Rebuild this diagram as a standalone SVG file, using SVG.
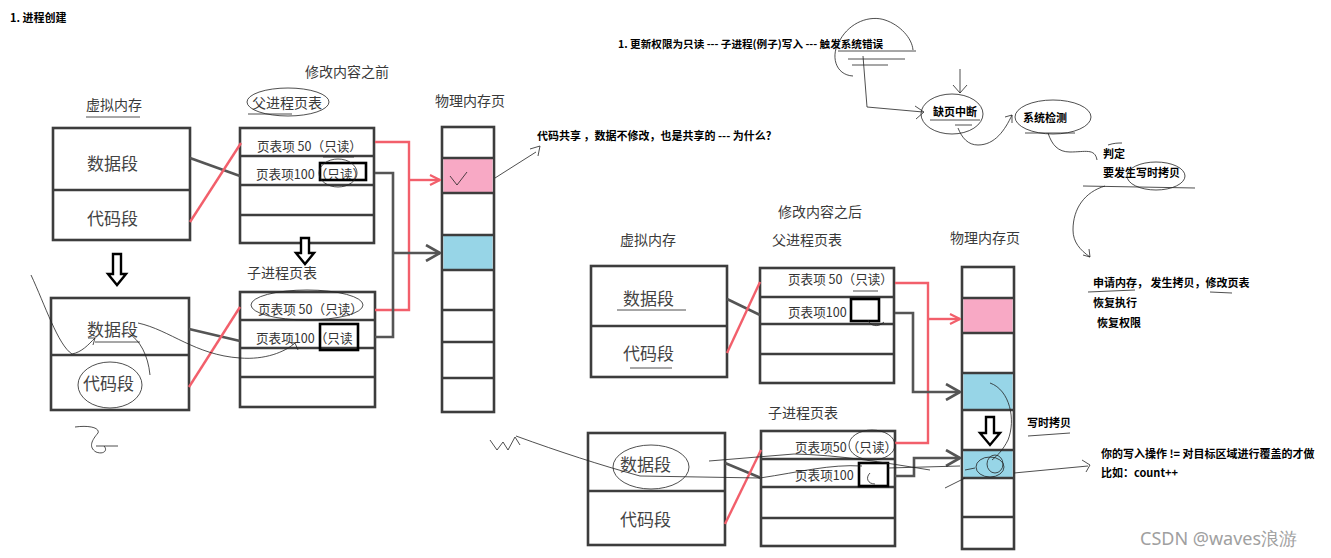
<svg xmlns="http://www.w3.org/2000/svg" width="1331" height="558" viewBox="0 0 1331 558">
<style>
.box{fill:#fff;stroke:#3d3d3d;stroke-width:2.6}
.row{stroke:#3d3d3d;stroke-width:2.4;fill:none}
.lbl{font-family:"Noto Sans CJK SC","Noto Sans",sans-serif;fill:#3a3a3a}
.t14{font-size:14px}
.seg{font-size:17px;fill:#444}
.pte{font-size:12.6px;fill:#333}
.b{font-family:"Noto Sans CJK SC","Noto Sans",sans-serif;font-weight:700;font-size:11px;fill:#000}
.b.sm{font-size:10.6px}
.red{stroke:#f25f6b;stroke-width:2.4;fill:none}
.gray{stroke:#555;stroke-width:2.6;fill:none}
.thin{stroke:#222;stroke-width:0.8;fill:none}
.bk{stroke:#000;stroke-width:2.6;fill:none}
.pink{fill:#f8a9c5}
.blue{fill:#97d5e7}
.down{fill:#fff;stroke:#000;stroke-width:2.4}
</style>
<defs>
<marker id="ar" viewBox="0 0 12 12" refX="11" refY="6" markerWidth="12" markerHeight="12" markerUnits="userSpaceOnUse" orient="auto"><path d="M1,1 L11,6 L1,11" fill="none" stroke="#f25f6b" stroke-width="2.2"/></marker>
<marker id="ag" viewBox="0 0 16 18" refX="15" refY="9" markerWidth="16" markerHeight="18" markerUnits="userSpaceOnUse" orient="auto"><path d="M1,1 L15,9 L1,17" fill="none" stroke="#555" stroke-width="2.6"/></marker>
</defs>

<g id="title"><text x="10" y="22" class="b">1. 进程创建</text></g>
<g id="before-label"><text x="305" y="77" class="lbl t14">修改内容之前</text></g>

<!-- left diagram -->
<g id="vm1-label"><text x="86" y="110" class="lbl t14">虚拟内存</text></g>
<g id="ppt1-label"><text x="252" y="108" class="lbl t14">父进程页表</text></g>
<g id="phys1-label"><text x="435" y="106" class="lbl t14">物理内存页</text></g>

<g id="vm1">
<rect x="53" y="128" width="137" height="112" class="box"/>
<line x1="53" y1="190" x2="190" y2="190" class="row"/>
<text x="87" y="170" class="lbl seg">数据段</text>
<text x="87" y="225" class="lbl seg">代码段</text>
</g>

<g id="ppt1">
<rect x="240" y="128" width="134" height="115" class="box"/>
<line x1="240" y1="156" x2="374" y2="156" class="row"/>
<line x1="240" y1="185" x2="374" y2="185" class="row"/>
<line x1="240" y1="215" x2="374" y2="215" class="row"/>
<text x="257" y="151" class="lbl pte">页表项 50（只读）</text>
<text x="256" y="179" class="lbl pte">页表项100（只读）</text>
<rect x="320" y="163" width="46" height="17" class="bk"/>
</g>

<g id="phys1">
<rect x="442" y="127" width="52" height="285" class="box"/>
<rect x="443.5" y="158" width="49" height="35" class="pink"/>
<rect x="443.5" y="235" width="49" height="35" class="blue"/>
<line x1="442" y1="158" x2="494" y2="158" class="row"/>
<line x1="442" y1="193" x2="494" y2="193" class="row"/>
<line x1="442" y1="235" x2="494" y2="235" class="row"/>
<line x1="442" y1="270" x2="494" y2="270" class="row"/>
<line x1="442" y1="310" x2="494" y2="310" class="row"/>
<line x1="442" y1="342" x2="494" y2="342" class="row"/>
<line x1="442" y1="378" x2="494" y2="378" class="row"/>
<path d="M450,176 L457,185 L467,172" class="thin"/>
</g>

<g id="down1"><path d="M113,254 h8 v20 h5 l-9,11 l-9,-11 h5 z" class="down"/></g>
<g id="down2"><path d="M301,238 h8 v15 h5 l-9,11 l-9,-11 h5 z" class="down"/></g>

<g id="cpt1-label"><text x="247" y="278" class="lbl t14">子进程页表</text></g>

<g id="vm2">
<rect x="51" y="298" width="138" height="112" class="box"/>
<line x1="51" y1="355" x2="189" y2="355" class="row"/>
<text x="87" y="336" class="lbl seg">数据段</text>
<text x="83" y="390" class="lbl seg">代码段</text>
</g>

<g id="cpt1">
<rect x="240" y="292" width="135" height="115" class="box"/>
<line x1="240" y1="320" x2="375" y2="320" class="row"/>
<line x1="240" y1="348" x2="375" y2="348" class="row"/>
<line x1="240" y1="377" x2="375" y2="377" class="row"/>
<text x="258" y="314" class="lbl pte">页表项 50（只读）</text>
<text x="256" y="343" class="lbl pte">页表项100（只读</text>
<rect x="320" y="324" width="38" height="26" class="bk"/>
</g>

<g id="note1"><text x="537" y="140" class="b">代码共享 ，数据不修改，也是共享的 --- 为什么?</text></g>

<!-- right diagram -->
<g id="note-top"><text x="618" y="48" class="b sm">1. 更新权限为只读 --- 子进程(例子)写入 --- 触发系统错误</text></g>
<g id="n-fault"><text x="933" y="116" class="b">缺页中断</text></g>
<g id="n-check"><text x="1023" y="122" class="b">系统检测</text></g>
<g id="n-judge"><text x="1103" y="158" class="b">判定</text><text x="1103" y="177" class="b">要发生写时拷贝</text></g>
<g id="n-steps"><text x="1093" y="287" class="b">申请内存， 发生拷贝，修改页表</text><text x="1093" y="307" class="b">恢复执行</text><text x="1097" y="327" class="b">恢复权限</text></g>
<g id="n-cow"><text x="1027" y="427" class="b">写时拷贝</text></g>
<g id="n-write"><text x="1101" y="458" class="b">你的写入操作 != 对目标区域进行覆盖的才做</text><text x="1101" y="477" class="b">比如：count++</text></g>

<g id="after-label"><text x="778" y="217" class="lbl t14">修改内容之后</text></g>
<g id="vm3-label"><text x="620" y="245" class="lbl t14">虚拟内存</text></g>
<g id="ppt2-label"><text x="772" y="245" class="lbl t14">父进程页表</text></g>
<g id="phys2-label"><text x="950" y="243" class="lbl t14">物理内存页</text></g>

<g id="vm3">
<rect x="591" y="266" width="136" height="111" class="box"/>
<line x1="591" y1="326" x2="727" y2="326" class="row"/>
<text x="623" y="305" class="lbl seg">数据段</text>
<text x="623" y="360" class="lbl seg">代码段</text>
</g>

<g id="ppt2">
<rect x="760" y="268" width="134" height="115" class="box"/>
<line x1="760" y1="297" x2="894" y2="297" class="row"/>
<line x1="760" y1="324" x2="894" y2="324" class="row"/>
<line x1="760" y1="354" x2="894" y2="354" class="row"/>
<text x="788" y="284" class="lbl pte">页表项 50（只读）</text>
<text x="788" y="317" class="lbl pte">页表项100</text>
<rect x="851" y="299" width="28" height="22" class="bk"/>
</g>

<g id="phys2">
<rect x="962" y="267" width="52" height="282" class="box"/>
<rect x="963.5" y="298" width="49" height="35" class="pink"/>
<rect x="963.5" y="373" width="49" height="37" class="blue"/>
<rect x="963.5" y="450" width="49" height="28" class="blue"/>
<line x1="962" y1="298" x2="1014" y2="298" class="row"/>
<line x1="962" y1="333" x2="1014" y2="333" class="row"/>
<line x1="962" y1="373" x2="1014" y2="373" class="row"/>
<line x1="962" y1="410" x2="1014" y2="410" class="row"/>
<line x1="962" y1="450" x2="1014" y2="450" class="row"/>
<line x1="962" y1="478" x2="1014" y2="478" class="row"/>
<line x1="962" y1="517" x2="1014" y2="517" class="row"/>
</g>

<g id="down3"><path d="M986,417 h8 v16 h6 l-10,12 l-10,-12 h6 z" class="down"/></g>

<g id="cpt2-label"><text x="768" y="418" class="lbl t14">子进程页表</text></g>

<g id="vm4">
<rect x="588" y="433" width="137" height="112" class="box"/>
<line x1="588" y1="491" x2="725" y2="491" class="row"/>
<text x="620" y="471" class="lbl seg">数据段</text>
<text x="620" y="526" class="lbl seg">代码段</text>
</g>

<g id="cpt2">
<rect x="761" y="431" width="134" height="115" class="box"/>
<line x1="761" y1="459" x2="895" y2="459" class="row"/>
<line x1="761" y1="487" x2="895" y2="487" class="row"/>
<line x1="761" y1="518" x2="895" y2="518" class="row"/>
<text x="795" y="452" class="lbl pte">页表项50（只读）</text>
<text x="795" y="480" class="lbl pte">页表项100</text>
<rect x="859" y="463" width="29" height="23" class="bk"/>
</g>

<g id="connectors">
<line x1="190" y1="158" x2="240" y2="176" class="gray"/>
<line x1="190" y1="222" x2="241" y2="143" class="red"/>
<line x1="189" y1="329" x2="240" y2="341" class="gray"/>
<line x1="189" y1="387" x2="240" y2="307" class="red"/>
<path d="M375,142 H409 V310 H375" class="red"/>
<path d="M409,180 H440" class="red" marker-end="url(#ar)"/>
<path d="M375,173 H393 V337 H375" class="gray"/>
<path d="M393,253 H440" class="gray" marker-end="url(#ag)"/>

<line x1="727" y1="299" x2="760" y2="315" class="gray"/>
<line x1="727" y1="353" x2="760" y2="282" class="red"/>
<line x1="725" y1="463" x2="761" y2="478" class="gray"/>
<line x1="725" y1="524" x2="761" y2="450" class="red"/>
<path d="M895,283 H928 V443 H895" class="red"/>
<path d="M928,319 H960" class="red" marker-end="url(#ar)"/>
<path d="M895,313 H913 V392 H960" class="gray" marker-end="url(#ag)"/>
<path d="M895,476 H914 V458 H960" class="gray" marker-end="url(#ag)"/>
</g>

<g id="scribbles">
<path d="M86,117 H140" class="thin"/>
<ellipse cx="288" cy="102" rx="41" ry="14" class="thin"/>
<path d="M248,114 H292" class="thin"/>
<path d="M323,157 H354" class="thin"/>
<ellipse cx="338" cy="173" rx="19" ry="14" class="thin"/>
<path d="M495,178 L536,152 M530,149 L540,146 L538,156" class="thin"/>
<ellipse cx="307" cy="305" rx="56" ry="15" class="thin"/>
<path d="M31,275 C45,305 58,345 72,354 C82,352 88,345 95,338 M88,338 L95,338 L93,345" class="thin"/>
<path d="M138,323 C170,330 195,355 240,358 C265,360 285,352 295,343 M288,342 L295,343 L298,350" class="thin"/>
<path d="M150,375 C148,355 140,340 128,333" class="thin"/>
<path d="M95,342 H140" class="thin"/>
<ellipse cx="110" cy="385" rx="32" ry="23" class="thin"/>
<path d="M75,427 C90,425 100,428 98,433 C92,440 88,447 96,452 C104,455 108,450 104,446 M96,446 H118" class="thin"/>

<path d="M853,76 C835,75 830,55 840,40 C850,22 870,15 885,20 C900,25 912,38 913,50" class="thin"/>
<path d="M838,51 H916 M848,59 H905 M852,65 H888" class="thin"/>
<path d="M863,56 L867,107 L923,112 M915,106 L924,112 L916,119" class="thin"/>
<path d="M960,69 V93 M953,85 L960,93 L967,85" class="thin"/>
<ellipse cx="952" cy="114" rx="31" ry="20" class="thin"/>
<path d="M930,120 H980 M955,125 H972" class="thin"/>
<path d="M958,128 C962,138 968,145 978,145 C995,145 1005,130 1012,115 M1005,117 L1012,115 L1012,123" class="thin"/>
<ellipse cx="1053" cy="117" rx="38" ry="17" class="thin"/>
<path d="M1025,133 H1075" class="thin"/>
<path d="M1048,133 C1052,145 1058,152 1070,152 C1085,152 1095,148 1097,160" class="thin"/>
<path d="M1108,145 C1114,143 1118,143 1122,143" class="thin"/>
<ellipse cx="1156" cy="176" rx="29" ry="14" class="thin"/>
<path d="M1083,186 L1195,188" class="thin"/>
<path d="M1105,186 C1085,192 1073,208 1073,230 C1073,242 1080,250 1090,257 M1083,255 L1090,257 L1089,249" class="thin"/>
<path d="M1088,292 L1135,290 M1210,292 L1232,293" class="thin"/>

<path d="M868,320 C870,326 878,328 884,322" class="thin"/>
<path d="M617,310 H686 M630,368 H672" class="thin"/>
<path d="M853,291 H878" class="thin"/>

<path d="M990,383 C1010,390 1016,420 1008,440 C1003,450 997,456 992,460" class="thin"/>
<ellipse cx="990" cy="467" rx="14" ry="10" class="thin"/>
<ellipse cx="995" cy="464" rx="8" ry="9" class="thin"/>
<path d="M945,488 L965,478 M965,470 L975,468" class="thin"/>
<path d="M1014,473 L1088,466 M1082,460 L1090,465 L1086,472" class="thin"/>
<path d="M1028,436 L1070,433" class="thin"/>

<path d="M490,440 L497,450 L503,442 L508,450 L515,437 L520,445" class="thin"/>
<path d="M516,436 C560,452 600,465 640,476 L760,478 C800,472 830,464 862,466" class="thin"/>
<path d="M709,461 L794,454 C840,455 880,462 930,470" class="thin"/>
<ellipse cx="651" cy="467" rx="38" ry="22" class="thin"/>
<path d="M870,473 C865,478 868,484 875,484" class="thin"/>
<ellipse cx="872" cy="445" rx="23" ry="15" class="thin"/>
<path d="M888,468 L960,466" class="thin"/>
</g>

<g id="watermark"><text x="1140" y="545" font-family="Noto Sans, sans-serif" font-size="18" fill="#a0a0a0">CSDN @waves浪游</text></g>
</svg>
